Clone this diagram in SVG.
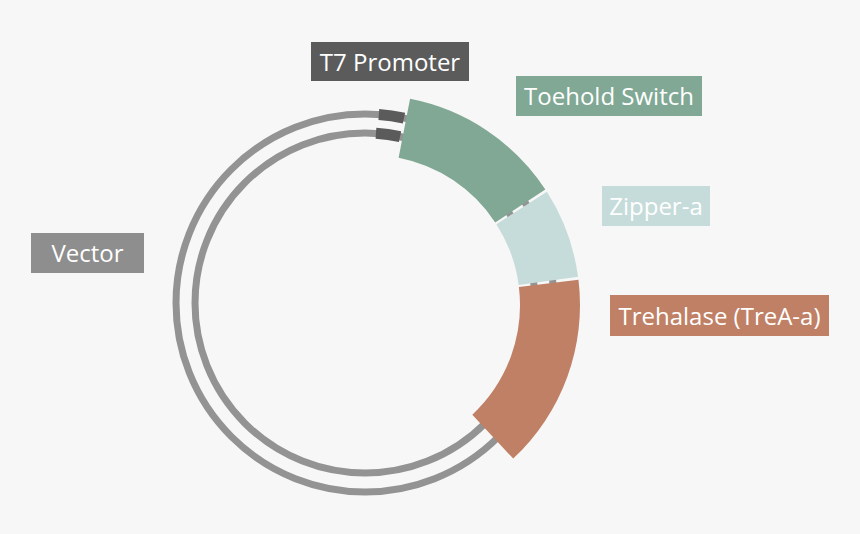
<svg xmlns="http://www.w3.org/2000/svg" width="860" height="534" viewBox="0 0 860 534">
<style>
.ring{fill:none;stroke:#939393;stroke-width:7}
.t7{fill:none;stroke:#5b5b5b;stroke-width:11}
.lbl{font-family:"Open Sans","Liberation Sans",sans-serif;font-size:24px;fill:#ffffff;text-anchor:middle}
</style>
<rect width="860" height="534" fill="#f7f7f7"/>
<g id="vector">
<circle class="ring" cx="365" cy="303" r="189"/>
<circle class="ring" cx="365" cy="303" r="170"/>
<rect x="31" y="233" width="113" height="40" fill="#8e8e8e"/>
<text class="lbl" x="87.5" y="262">Vector</text>
</g>
<g id="t7-promoter">
<path class="t7" d="M378.84,114.51 A189,189 0 0 1 403.97,118.06"/>
<path class="t7" d="M375.97,133.35 A170,170 0 0 1 400.05,136.65"/>
<rect x="311" y="42" width="158" height="39" fill="#5b5b5b"/>
<text class="lbl" x="390" y="70.5">T7 Promoter</text>
</g>
<g id="toehold-switch">
<path fill="#80a894" d="M410.07,98.86 A210,210 0 0 1 545.32,189.40 L495.23,222.43 A150,150 0 0 0 398.62,157.76 Z"/>
<rect x="516" y="76" width="186" height="40" fill="#80a894"/>
<text class="lbl" x="609" y="105">Toehold Switch</text>
</g>
<g id="zipper-a">
<path fill="#c6dcda" d="M546.91,191.86 A210,210 0 0 1 578.11,276.86 L518.65,284.90 A150,150 0 0 0 496.37,224.18 Z"/>
<rect x="602" y="186" width="108" height="40" fill="#c6dcda"/>
<text class="lbl" x="656" y="215">Zipper-a</text>
</g>
<g id="trehalase">
<path fill="#c08065" d="M578.48,279.77 A210,210 0 0 1 513.22,458.58 L472.30,414.70 A150,150 0 0 0 518.91,286.98 Z"/>
<rect x="610" y="295" width="219" height="41" fill="#c08065"/>
<text class="lbl" x="719.5" y="324.5">Trehalase (TreA-a)</text>
</g>
<g id="connectors"/>
</svg>
